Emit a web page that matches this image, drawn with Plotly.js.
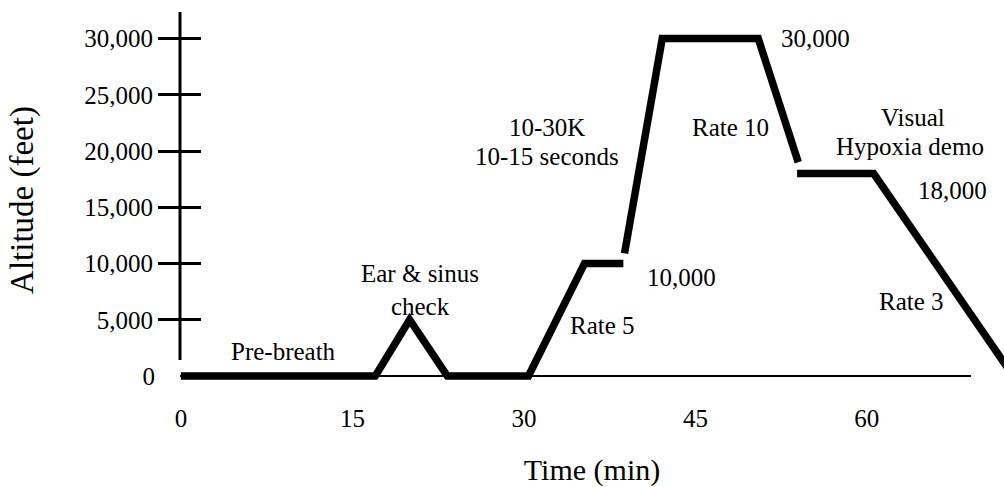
<!DOCTYPE html>
<html>
<head>
<meta charset="utf-8">
<script src="https://cdn.plot.ly/plotly-3.0.1.min.js"></script>
<style>html,body{margin:0;padding:0;background:#fff;}#chart{width:1004px;height:487px;}</style>
</head>
<body>
<div id="chart"></div>
<script>
// Time (min) and altitude (feet) read from the profile; null = break in the line
var timeMin = [0, 17.0, 20.0, 23.3, 30.4, 35.3, 38.7, null, 38.8, 42.1, 50.5, 54.0, null, 53.9, 60.6, 72.8];
var altitudeFt = [0, 0, 5000, 0, 0, 10000, 10000, null, 10900, 30000, 30000, 19000, null, 18000, 18000, 0];

var xTickVals = [0, 15, 30, 45, 60];
var xTickText = ['0', '15', '30', '45', '60'];
var yTickVals = [5000, 10000, 15000, 20000, 25000, 30000];
var yTickText = ['5,000', '10,000', '15,000', '20,000', '25,000', '30,000'];
var yZeroVals = [0];
var yZeroText = ['0'];

var labelText = ['Pre-breath', 'Ear &amp; sinus<br>check', '10-30K', '10-15 seconds', 'Rate 5', '10,000',
                 '30,000', 'Rate 10', 'Visual', 'Hypoxia demo', '18,000', 'Rate 3'];
var labelTime = [9.0, 20.9, 32.0, 32.0, 36.9, 43.8, 55.55, 48.1, 64.05, 63.8, 67.5, 63.95];
var labelAlt = [2220, 7650, 22130, 19470, 4530, 8800, 30040, 22130, 23020, 20440, 16530, 6580];

var serif = 'Liberation Serif, Times New Roman, serif';

var trace = {
  x: timeMin, y: altitudeFt, type: 'scatter', mode: 'lines',
  line: {color: '#000', width: 7.5}, connectgaps: false,
  hoverinfo: 'skip', showlegend: false
};
var dummy = {x: [], y: [], type: 'scatter', mode: 'lines', yaxis: 'y2', showlegend: false, hoverinfo: 'skip'};

var annotations = labelText.map(function(t, i){
  return {text: t, x: labelTime[i], y: labelAlt[i], xref: 'x', yref: 'y', showarrow: false,
          font: {family: serif, size: 25, color: '#000'}, align: 'center'};
});

var layout = {
  width: 1004, height: 487,
  margin: {l: 180, r: 0, t: 5, b: 92},
  paper_bgcolor: '#fff', plot_bgcolor: '#fff',
  font: {family: serif, size: 25, color: '#000'},
  showlegend: false,
  xaxis: {
    range: [-0.0875, 72.0], tickmode: 'array', tickvals: xTickVals, ticktext: xTickText,
    ticks: '', showline: false, showgrid: false, zeroline: false,
    tickfont: {family: serif, size: 25, color: '#000'}, ticklabelstandoff: 6,
    title: {text: 'Time (min)', font: {family: serif, size: 30, color: '#000'}}
  },
  yaxis: {
    range: [-1689, 32978], tickmode: 'array', tickvals: yTickVals, ticktext: yTickText,
    ticks: 'outside', ticklen: 21, tickwidth: 3, tickcolor: '#000',
    minor: {tickmode: 'array', tickvals: yTickVals, ticks: 'inside', ticklen: 21, tickwidth: 3, tickcolor: '#000', showgrid: false},
    showline: false, showgrid: false, zeroline: false,
    tickfont: {family: serif, size: 25, color: '#000'},
    title: {text: 'Altitude (feet)', standoff: 40, font: {family: serif, size: 33, color: '#000'}}
  },
  yaxis2: {
    overlaying: 'y', side: 'left', anchor: 'x', matches: 'y',
    tickmode: 'array', tickvals: yZeroVals, ticktext: yZeroText, ticks: '',
    showline: false, showgrid: false, zeroline: false, ticklabelstandoff: 24,
    tickfont: {family: serif, size: 25, color: '#000'}
  },
  shapes: [
    {type: 'line', xref: 'paper', yref: 'paper', x0: 0, x1: 0, y0: 0.0897, y1: 0.982, line: {color: '#000', width: 3}},
    {type: 'line', xref: 'paper', yref: 'y', x0: 0, x1: 0.96, y0: 0, y1: 0, layer: 'below', line: {color: '#000', width: 2}}
  ],
  annotations: annotations
};

Plotly.newPlot('chart', [trace, dummy], layout, {staticPlot: true, displayModeBar: false});
</script>
</body>
</html>
